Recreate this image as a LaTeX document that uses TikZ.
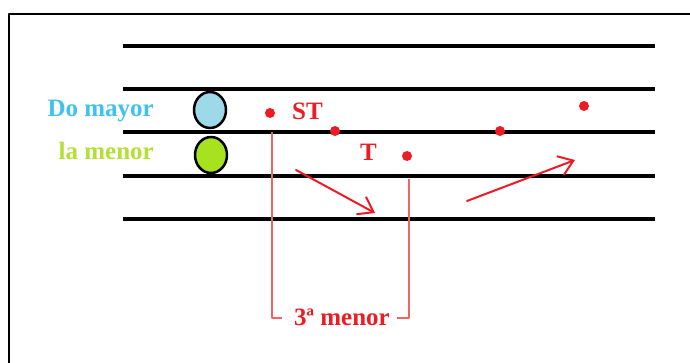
\documentclass[tikz,border=0pt]{standalone}
\usepackage{fontspec}
\setmainfont{Liberation Serif}
\usetikzlibrary{shapes.geometric,arrows.meta}
\definecolor{rojo}{HTML}{ED1C24}
\definecolor{rojoclaro}{HTML}{F06464}
\definecolor{celeste}{HTML}{3FC3EE}
\definecolor{verdelima}{HTML}{B4E035}
\definecolor{azulnota}{HTML}{9DD9E8}
\definecolor{verdenota}{HTML}{A6E21E}
\begin{document}
\begin{tikzpicture}[x=1pt, y=-1pt, line join=round, line cap=round, >=stealth,
		font=\fontsize{25}{29}\selectfont\bfseries,
		nota/.style={ellipse, draw, line width=2.5pt, minimum width=32pt, minimum height=36pt, inner sep=0pt},
		punto/.style={circle, fill=rojo, minimum size=10pt, inner sep=0pt},
		texto/.style={inner sep=0pt, text=rojo},
		flecha/.style={draw=rojo, line width=2pt, -{Straight Barb[length=14pt, width=20pt, line width=2pt]}}]
	\def\xmin{123} \def\xmax{655}
	\useasboundingbox (0,0) rectangle (690,363);
	% marco
	\draw[line width=2pt] (9,363)--(9,14)--(690,14);
	% pentagrama
	\foreach \y in {46,89,132,176,219}
		\draw[line width=4pt, line cap=butt] (\xmin,\y)--(\xmax,\y);
	% notas
	\node[nota, fill=azulnota] (notaDo) at (210,110) {};
	\node[nota, fill=verdenota] (notaLa) at (211,155) {};
	\node[anchor=base east, inner sep=0pt, text=celeste] (domayor) at (154,117) {Do mayor};
	\node[anchor=base east, inner sep=0pt, text=verdelima] (lamenor) at (154,160) {la menor};
	% puntos
	\node[punto] (p1) at (270,113) {};
	\node[punto] (p2) at (335,131) {};
	\node[punto] (p3) at (407,156) {};
	\node[punto] (p4) at (500,131) {};
	\node[punto] (p5) at (584,106) {};
	\node[texto, anchor=base west] (st) at (292,120) {ST};
	\node[texto, anchor=base west] (t) at (360,161) {T};
	% flechas
	\coordinate (a1) at (296,170); \coordinate (a2) at (375,213);
	\coordinate (b1) at (467,201); \coordinate (b2) at (575,160);
	\draw[flecha] (a1)--(a2);
	\draw[flecha] (b1)--(b2);
	% intervalo
	\node[texto, anchor=base] (tercera) at (342,325) {3ª menor};
	\coordinate (c1) at (272,132); \coordinate (c2) at (282,318);
	\coordinate (d1) at (409,179); \coordinate (d2) at (397,318);
	\draw[rojoclaro, line width=1.5pt, line cap=butt] (c1) |- (c2);
	\draw[rojoclaro, line width=1.5pt, line cap=butt] (d1) |- (d2);
\end{tikzpicture}
\end{document}
